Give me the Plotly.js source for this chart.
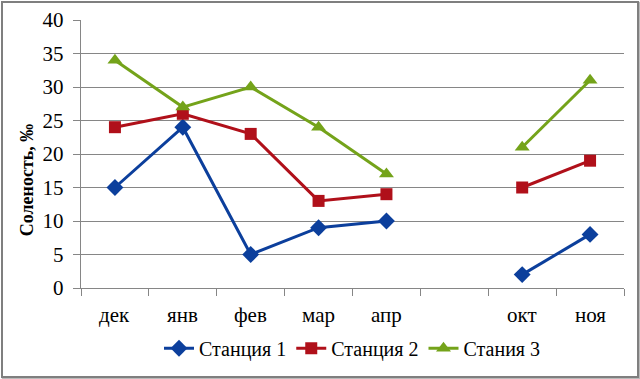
<!DOCTYPE html>
<html><head><meta charset="utf-8">
<script src="https://cdn.plot.ly/plotly-3.0.1.min.js"></script>
<style>
html,body{margin:0;padding:0;background:#fff;font-family:'Liberation Serif';}
#frame{position:absolute;left:1px;top:1px;width:634px;height:373px;border:2px solid #7f7f7f;box-shadow:1px 1px 1px #bbb;pointer-events:none;}
#chart{position:absolute;left:0;top:0;width:640px;height:379px;}
</style></head>
<body>
<div id="chart"></div>
<div id="frame"></div>
<script>
var months = ['дек','янв','фев','мар','апр',' ','окт','ноя'];
var station1 = [15, 24, 5, 9, 10, null, 2, 8];
var station2 = [24, 26, 23, 13, 14, null, 15, 19];
var station3 = [34, 27, 30, 24, 17, null, 21, 31];
var names = ['Станция 1','Станция 2','Стания 3'];
var yTitle = '<b>Соленость, ‰</b>';

var font = 'Liberation Serif';
var traces = [
 {x: months, y: station1, name: names[0], type:'scatter', mode:'lines+markers', connectgaps:false,
  line:{color:'#0c3f9c', width:3}, marker:{symbol:'diamond', size:13, color:'#0c3f9c'}},
 {x: months, y: station2, name: names[1], type:'scatter', mode:'lines+markers', connectgaps:false,
  line:{color:'#b0101a', width:3}, marker:{symbol:'square', size:12, color:'#b0101a'}},
 {x: months, y: station3, name: names[2], type:'scatter', mode:'lines+markers', connectgaps:false,
  line:{color:'#74a31a', width:3}, marker:{symbol:'triangle-up', size:13, color:'#74a31a'}}
];
var annotations = months.map(function(m){
  return {text:m, xref:'x', yref:'paper', x:m, y:-0.1, xanchor:'center', yanchor:'middle',
          showarrow:false, font:{family:font, size:21, color:'#000'}};
});
annotations.push({text:yTitle, xref:'paper', yref:'paper', x:-0.098, y:0.405, xanchor:'center', yanchor:'middle',
   textangle:-90, showarrow:false, font:{family:font, size:18, color:'#000'}});
var layout = {
 width:640, height:379,
 margin:{l:81, r:16, t:20, b:90},
 paper_bgcolor:'#fff', plot_bgcolor:'#fff',
 font:{family:font, size:21, color:'#000'},
 showlegend:true,
 legend:{orientation:'h', x:0.5, xanchor:'center', y:-0.22, yanchor:'middle',
   font:{family:font, size:20}, itemwidth:30, tracegroupgap:0},
 xaxis:{type:'category', categoryorder:'array', categoryarray:months,
   range:[-0.5,7.5], tickson:'boundaries', ticks:'outside', ticklen:7, tickcolor:'#868686',
   showline:true, linecolor:'#868686', linewidth:1, showgrid:false, zeroline:false,
   showticklabels:false},
 yaxis:{range:[0,40], dtick:5, tick0:0, ticks:'outside', ticklen:7, tickcolor:'#868686',
   showline:true, linecolor:'#868686', linewidth:1, showgrid:true, gridcolor:'#868686', gridwidth:1,
   zeroline:false, tickfont:{family:font, size:21}, ticksuffix:' '},
 annotations:annotations
};
Plotly.newPlot('chart', traces, layout, {displayModeBar:false, staticPlot:true}).then(function(){
  var t = document.querySelector('.ytick text');
  var d = document.createElement('div');
  d.style.cssText = 'position:absolute;left:600px;top:4px;font-size:4px;color:#fff;';
  d.textContent = t ? (t.getAttribute('style') || '').length : 0;
  document.body.appendChild(d);
});
</script>
</body></html>
